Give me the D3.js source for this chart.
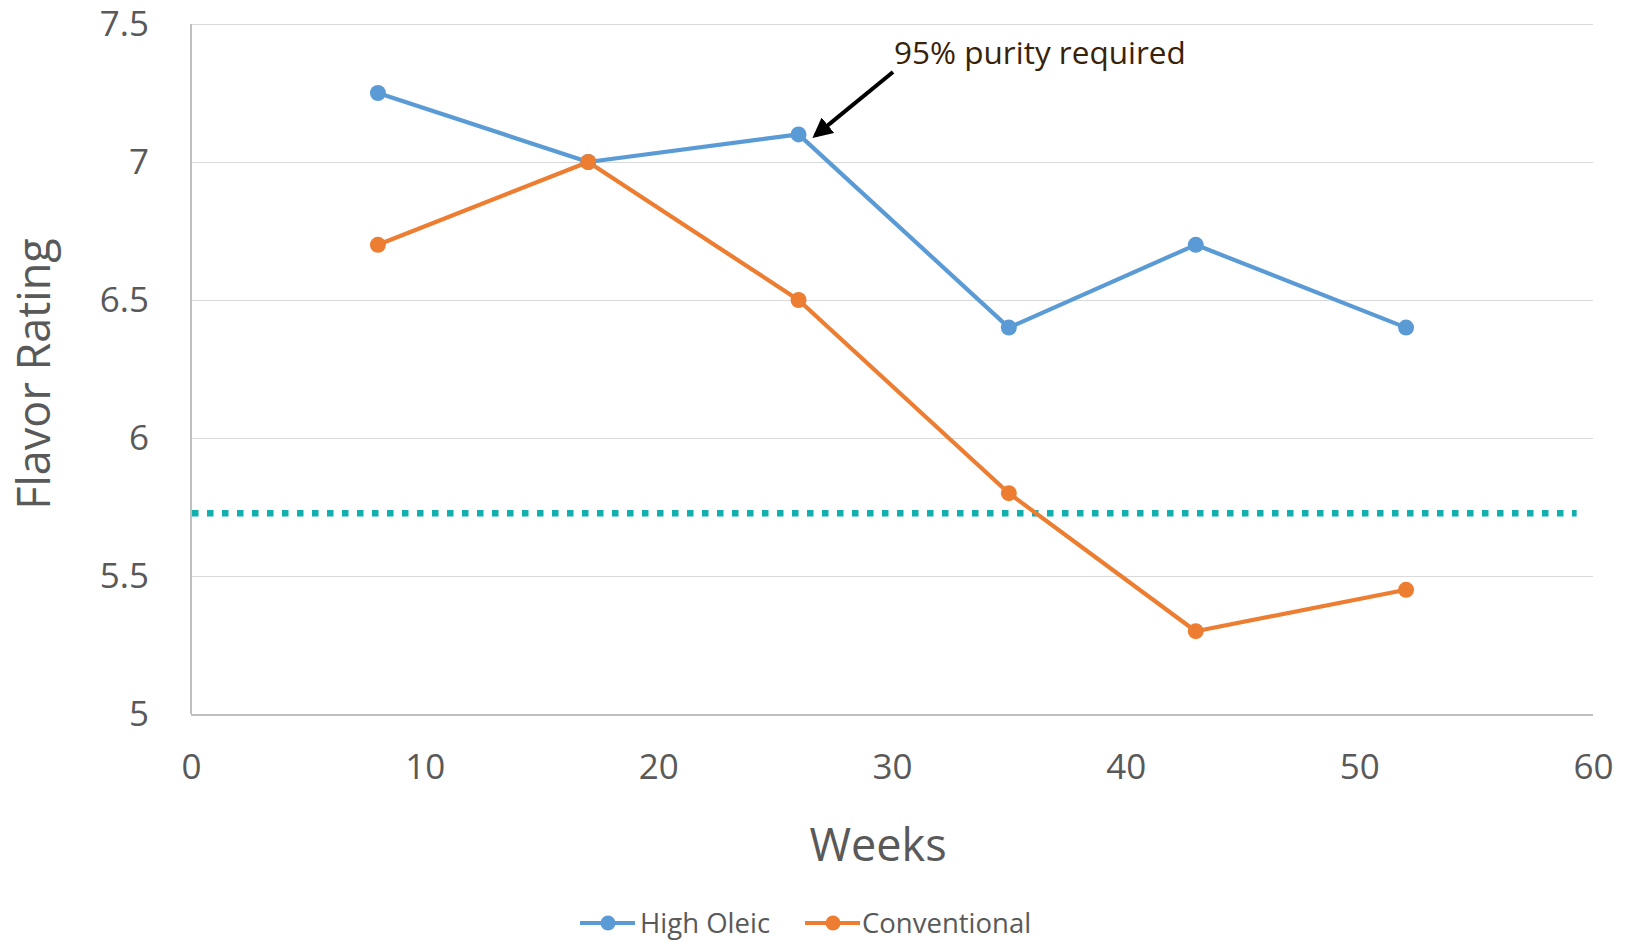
<!DOCTYPE html>
<html><head><meta charset="utf-8">
<script src="https://cdn.jsdelivr.net/npm/d3@7"></script>
<style>body{margin:0;background:#fff}svg{display:block}text{font-family:"Open Sans",sans-serif}</style>
</head><body><svg id="c" width="1627" height="941"></svg>
<script>
const weeks = [8, 17, 26, 35, 43, 52];
const highOleic = [7.25, 7.0, 7.1, 6.4, 6.7, 6.4];
const conventional = [6.7, 7.0, 6.5, 5.8, 5.3, 5.45];
const seriesNames = ["High Oleic", "Conventional"];
const seriesColors = ["#5B9BD5", "#ED7D31"];
const xTicks = [0, 10, 20, 30, 40, 50, 60];
const yTicks = [5, 5.5, 6, 6.5, 7, 7.5];
const threshold = 5.727;
const annotation = "95% purity required";
const annotatedIndex = 2;

const svg = d3.select("#c");
const L = 191, R = 1593, T = 24, B = 714;
const x = d3.scaleLinear().domain([0, 60]).range([L, R]);
const y = d3.scaleLinear().domain([5, 7.5]).range([B, T]);

// gridlines
const yAxis = d3.axisLeft(y).tickValues(yTicks).tickSize(-(R - L)).tickFormat(d => d3.format("")(d)).tickPadding(42);
const gy = svg.append("g").attr("transform", `translate(${L},0)`).call(yAxis);
gy.select(".domain").remove();
gy.selectAll(".tick line").attr("stroke", "#D9D9D9").attr("stroke-width", 1.5).attr("shape-rendering", "crispEdges");
gy.selectAll(".tick text").attr("fill", "#595959").style("font-size", "35px");
gy.selectAll(".tick").filter(d => d === 5).select("line").attr("stroke", "#BFBFBF").attr("stroke-width", 2);

const xAxis = d3.axisBottom(x).tickValues(xTicks).tickSize(0).tickPadding(40);
const gx = svg.append("g").attr("transform", `translate(0,${B})`).call(xAxis);
gx.select(".domain").remove();
gx.selectAll(".tick text").attr("fill", "#595959").style("font-size", "35px");

// vertical axis line
svg.append("line").attr("x1", L).attr("x2", L).attr("y1", T).attr("y2", B)
  .attr("stroke", "#BFBFBF").attr("stroke-width", 2).attr("shape-rendering", "crispEdges");

// threshold dotted line
svg.append("line").attr("x1", x(0) + 1).attr("x2", x(59.3)).attr("y1", y(threshold)).attr("y2", y(threshold))
  .attr("stroke", "#12AFAF").attr("stroke-width", 6.5).attr("stroke-dasharray", "6.5,8.5");

// series
const data = [highOleic, conventional];
const line = d3.line().x((d, i) => x(weeks[i])).y(d => y(d));
data.forEach((vals, si) => {
  svg.append("path").datum(vals).attr("d", line).attr("fill", "none")
    .attr("stroke", seriesColors[si]).attr("stroke-width", 4.2).attr("stroke-linejoin", "round");
});
data.forEach((vals, si) => {
  svg.append("g").selectAll("circle").data(vals).join("circle")
    .attr("cx", (d, i) => x(weeks[i])).attr("cy", d => y(d)).attr("r", 8)
    .attr("fill", seriesColors[si]);
});

// axis titles
svg.append("text").attr("x", 878).attr("y", 861).attr("text-anchor", "middle")
  .attr("fill", "#595959").style("font-size", "45px").text("Weeks");
svg.append("text").attr("transform", `translate(50,${(T + B) / 2 + 5}) rotate(-90)`).attr("text-anchor", "middle")
  .attr("fill", "#595959").style("font-size", "45px").text("Flavor Rating");

// annotation
const defs = svg.append("defs");
defs.append("marker").attr("id", "ah").attr("viewBox", "0 0 10 10").attr("refX", 8).attr("refY", 5)
  .attr("markerWidth", 5).attr("markerHeight", 5).attr("orient", "auto")
  .append("path").attr("d", "M0,0 L10,5 L0,10 z").attr("fill", "#000");
const ax = x(weeks[annotatedIndex]), ay = y(highOleic[annotatedIndex]);
svg.append("line").attr("x1", 893).attr("y1", 72).attr("x2", ax + 17).attr("y2", ay + 1)
  .attr("stroke", "#000").attr("stroke-width", 4).attr("marker-end", "url(#ah)");
svg.append("text").attr("x", 894).attr("y", 64).attr("fill", "#3A2208").style("font-size", "31.5px").text(annotation);

// legend
const lg = svg.append("g");
const items = [{x0: 580, tx: 640}, {x0: 805, tx: 862}];
items.forEach((it, i) => {
  lg.append("line").attr("x1", it.x0).attr("x2", it.x0 + 55).attr("y1", 923).attr("y2", 923)
    .attr("stroke", seriesColors[i]).attr("stroke-width", 4);
  lg.append("circle").attr("cx", it.x0 + 28).attr("cy", 923).attr("r", 7.5).attr("fill", seriesColors[i]);
  lg.append("text").attr("x", it.tx).attr("y", 933).attr("fill", "#595959").style("font-size", "27.5px").text(seriesNames[i]);
});
</script></body></html>
